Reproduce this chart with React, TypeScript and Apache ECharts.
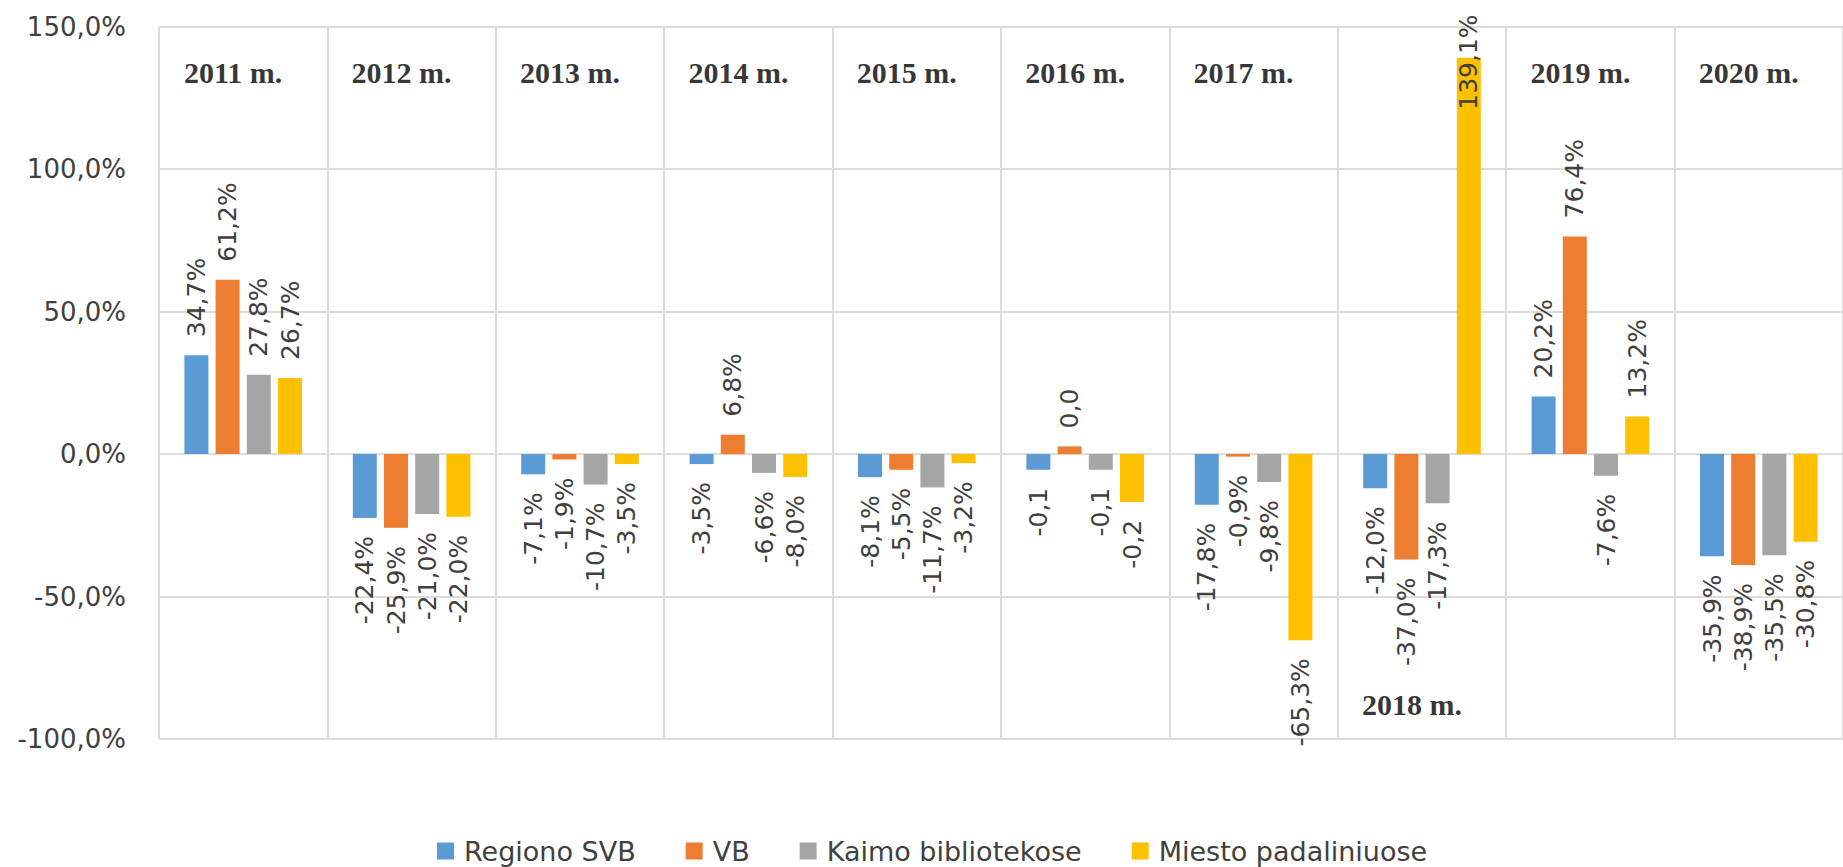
import React, { useEffect, useRef } from "react";
import * as echarts from "echarts";

const years = ["2011 m.", "2012 m.", "2013 m.", "2014 m.", "2015 m.", "2016 m.", "2017 m.", "2018 m.", "2019 m.", "2020 m."];
const seriesNames = ["Regiono SVB", "VB", "Kaimo bibliotekose", "Miesto padaliniuose"];
const colors = ["#5B9BD5", "#ED7D31", "#A5A5A5", "#FFC000"];

const regionoSVB = [34.7, -22.4, -7.1, -3.5, -8.1, -5.5, -17.8, -12.0, 20.2, -35.9];
const vb = [61.2, -25.9, -1.9, 6.8, -5.5, 2.7, -0.9, -37.0, 76.4, -38.9];
const kaimo = [27.8, -21.0, -10.7, -6.6, -11.7, -5.5, -9.8, -17.3, -7.6, -35.5];
const miesto = [26.7, -22.0, -3.5, -8.0, -3.2, -16.8, -65.3, 139.1, 13.2, -30.8];

// labels as printed in the chart (2016 shows unformatted fractions)
const regionoLabels = ["34,7%", "-22,4%", "-7,1%", "-3,5%", "-8,1%", "-0,1", "-17,8%", "-12,0%", "20,2%", "-35,9%"];
const vbLabels = ["61,2%", "-25,9%", "-1,9%", "6,8%", "-5,5%", "0,0", "-0,9%", "-37,0%", "76,4%", "-38,9%"];
const kaimoLabels = ["27,8%", "-21,0%", "-10,7%", "-6,6%", "-11,7%", "-0,1", "-9,8%", "-17,3%", "-7,6%", "-35,5%"];
const miestoLabels = ["26,7%", "-22,0%", "-3,5%", "-8,0%", "-3,2%", "-0,2", "-65,3%", "139,1%", "13,2%", "-30,8%"];

const yTicks = [-100, -50, 0, 50, 100, 150];

const allValues = [regionoSVB, vb, kaimo, miesto];
const allLabels = [regionoLabels, vbLabels, kaimoLabels, miestoLabels];

const yearLabelTopLevel = 134;
const yearLabelBottomLevel = -88;
const yearsLabelledBelow = ["2018 m."];

const labelFont = "DejaVu Sans";

export default function App() {
  const ref = useRef<HTMLDivElement>(null);

  useEffect(() => {
    if (!ref.current) return;
    const chart = echarts.init(ref.current, null, { renderer: "svg" });

    const barSeries = seriesNames.map((name, si) => ({
      name,
      type: "bar",
      barWidth: 24,
      barGap: "30%",
      itemStyle: { color: colors[si] },
      data: allValues[si].map((v, i) => {
        const pos = v >= 0;
        const tooHigh = v > 110;
        return {
          value: v,
          label: {
            show: true,
            formatter: allLabels[si][i],
            position: pos ? "top" : "bottom",
            distance: tooHigh ? -52 : 18,
            rotate: 90,
            align: pos ? "left" : "right",
            verticalAlign: "middle",
            color: "#404040",
            fontFamily: labelFont,
            fontSize: 25,
          },
        };
      }),
    }));

    const yearSeries = {
      name: "years",
      type: "scatter",
      symbolSize: 1,
      itemStyle: { color: "rgba(0,0,0,0)" },
      silent: true,
      z: 10,
      data: years.map((y) => [y, yearsLabelledBelow.includes(y) ? yearLabelBottomLevel : yearLabelTopLevel]),
      label: {
        show: true,
        position: "inside",
        offset: [-10, 0],
        formatter: (p: any) => p.value[0],
        fontFamily: "Liberation Serif",
        fontWeight: "bold",
        fontSize: 30,
        color: "#000000",
      },
    };

    chart.setOption({
      animation: false,
      backgroundColor: "#ffffff",
      grid: { left: 159, right: -22, top: 26.7, bottom: 128, containLabel: false },
      legend: {
        data: seriesNames,
        left: 437,
        top: 834,
        padding: 0,
        icon: "rect",
        itemWidth: 17,
        itemHeight: 17,
        itemGap: 50,
        textStyle: { color: "#404040", fontFamily: labelFont, fontSize: 27, padding: [0, 0, 0, 5], lineHeight: 34 },
      },
      xAxis: {
        type: "category",
        data: years,
        axisLine: { show: false },
        axisTick: { show: false },
        axisLabel: { show: false },
        splitLine: { show: true, lineStyle: { color: "#dcdcdc", width: 2 } },
      },
      yAxis: {
        type: "value",
        min: yTicks[0],
        max: yTicks[yTicks.length - 1],
        interval: 50,
        axisLine: { show: false },
        axisTick: { show: false },
        splitLine: { show: true, lineStyle: { color: "#dcdcdc", width: 2 } },
        axisLabel: {
          margin: 33,
          color: "#404040",
          fontFamily: labelFont,
          fontSize: 26,
          formatter: (v: number) => v.toFixed(1).replace(".", ",") + "%",
        },
      },
      series: [...barSeries, yearSeries],
    });

    return () => chart.dispose();
  }, []);

  return (
    <div
      ref={ref}
      style={{ position: "fixed", left: 0, top: 0, width: 1843, height: 867, background: "#fff" }}
    />
  );
}
